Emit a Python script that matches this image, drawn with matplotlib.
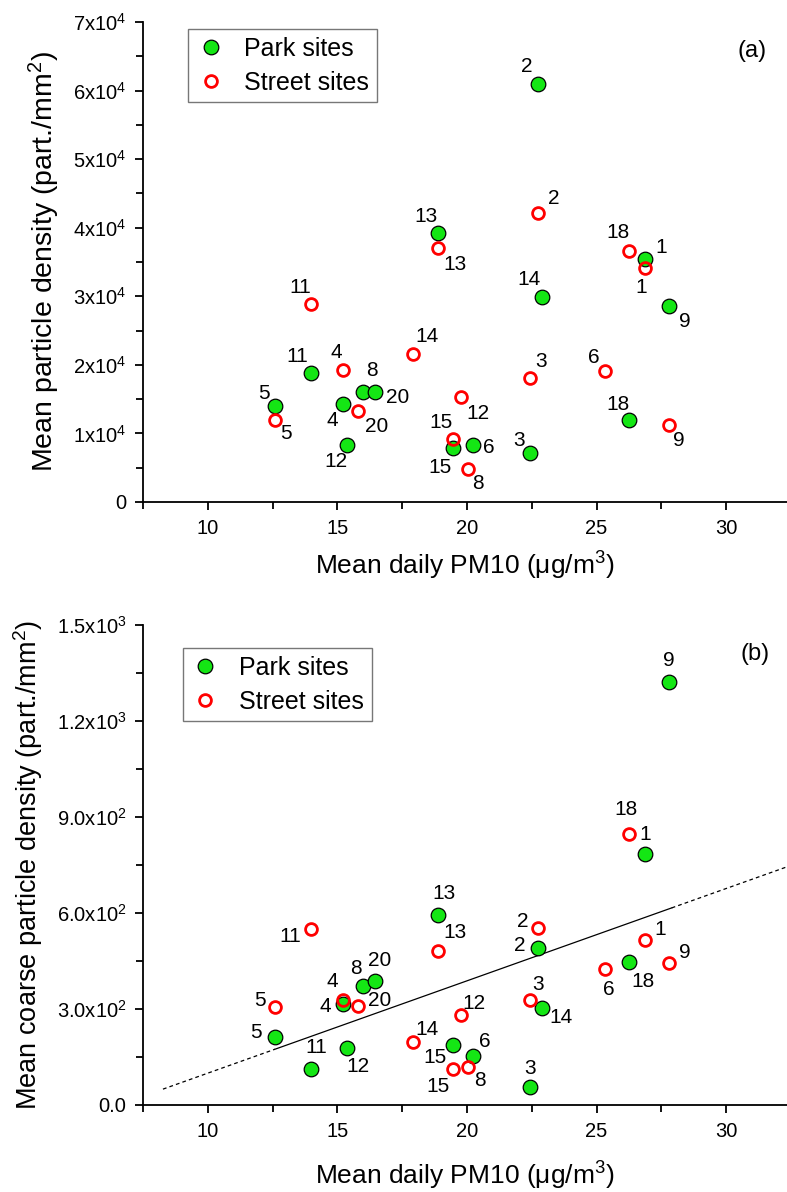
import numpy as np
import matplotlib
matplotlib.use('Agg')
import matplotlib.pyplot as plt

plt.rcParams['font.family'] = ['Liberation Sans', 'DejaVu Sans']
plt.rcParams['mathtext.default'] = 'regular'

# site numbers (same order for every array below)
sites = [1, 2, 3, 4, 5, 6, 8, 9, 11, 12, 13, 14, 15, 18, 20]

# mean daily PM10 (ug/m3)
park_pm10 = [26.88, 22.73, 22.43, 15.2, 12.59, 20.22, 16.0, 27.79, 14.0, 15.38, 18.9, 22.88, 19.47, 26.24, 16.44]
street_pm10 = [26.88, 22.73, 22.43, 15.2, 12.59, 25.34, 20.04, 27.79, 14.0, 19.77, 18.9, 17.9, 19.47, 26.24, 15.8]

# (a) mean particle density (part./mm2)
park_density = [35400, 60900, 7100, 14300, 14000, 8300, 16000, 28600, 18800, 8300, 39200, 29900, 7900, 11900, 16000]
street_density = [34100, 42200, 18100, 19200, 12000, 19100, 4800, 11200, 28900, 15300, 37000, 21600, 9200, 36600, 13200]

# (b) mean coarse particle density (part./mm2)
park_coarse = [784, 491, 55, 316, 212, 152, 371, 1322, 113, 178, 595, 303, 186, 446, 388]
street_coarse = [515, 553, 329, 327, 305, 426, 119, 444, 551, 281, 482, 196, 112, 847, 308]

# linear fit shown in (b)
fit_slope = 28.85
fit_intercept = -189.0

# label offsets in pixels (dx, dy), one per site
off_a_park = [(16, 12), (-11, 18), (-11, 13), (-10, -17), (-11, 12), (16, -2), (9, 22), (16, -16),
              (-14, 17), (-11, -16), (-12, 17), (-13, 17), (-13, -20), (-11, 16), (23, -5)]
off_a_street = [(-4, -19), (16, 14), (11, 16), (-6, 18), (11, -14), (-12, 14), (10, -14), (10, -15),
                (-11, 16), (17, -16), (17, -16), (14, 17), (-12, 16), (-11, 19), (19, -15)]
off_b_park = [(0, 20), (-18, 2), (0, 19), (-17, -3), (-19, 5), (12, 15), (-7, 18), (0, 21),
              (5, 21), (11, -18), (6, 21), (19, -9), (-18, -12), (14, -19), (5, 20)]
off_b_street = [(15, 11), (-15, 7), (8, 15), (-10, 19), (-15, 7), (3, -21), (12, -14), (16, 10),
                (-21, -8), (13, 12), (17, 18), (14, 13), (-15, -17), (-3, 24), (22, 6)]

green = '#14e614'
red = '#ff0000'

fig = plt.figure(figsize=(7.87, 11.92), dpi=100)
ax1 = fig.add_axes([143 / 787, 1 - 502 / 1192, 644 / 787, 480 / 1192])
ax2 = fig.add_axes([143 / 787, 1 - 1105 / 1192, 644 / 787, 480 / 1192])


def draw_panel(ax, yp, ys, offp, offs, xpad):
    ax.plot(park_pm10, yp, 'o', ms=10.5, mfc=green, mec='black', mew=0.9, ls='none',
            label='Park sites', zorder=3)
    ax.plot(street_pm10, ys, 'o', ms=8.5, mfc='none', mec=red, mew=2.0, ls='none',
            label='Street sites', zorder=4)
    for s, x, y, o in zip(sites, park_pm10, yp, offp):
        ax.annotate(str(s), (x, y), xytext=o, textcoords='offset pixels',
                    ha='center', va='center', fontsize=15)
    for s, x, y, o in zip(sites, street_pm10, ys, offs):
        ax.annotate(str(s), (x, y), xytext=o, textcoords='offset pixels',
                    ha='center', va='center', fontsize=15)
    ax.set_xlim(7.5, 32.35)
    ax.set_xticks([10, 15, 20, 25, 30])
    ax.set_xticks(np.arange(7.5, 32.5, 2.5), minor=True)
    ax.spines['top'].set_visible(False)
    ax.spines['right'].set_visible(False)
    for sp in ('left', 'bottom'):
        ax.spines[sp].set_linewidth(1.3)
    ax.tick_params(which='major', length=6, width=1.3, labelsize=14.5, pad=6)
    ax.tick_params(which='minor', length=5, width=1.3)
    ax.set_xlabel(r'Mean daily PM10 ($\mu$g/m$^3$)', fontsize=19, labelpad=xpad)
    leg = ax.legend(fontsize=18, frameon=True, fancybox=False, edgecolor='#555555',
                    handletextpad=0.75, borderpad=0.3, labelspacing=0.4,
                    handlelength=1.2, borderaxespad=0, loc='upper left')
    leg.get_frame().set_linewidth(1.0)
    return leg


leg1 = draw_panel(ax1, park_density, street_density, off_a_park, off_a_street, 9)
leg1.set_bbox_to_anchor((0.07, 0.985), transform=ax1.transAxes)
ax1.set_ylim(0, 70000)
ax1.set_yticks(np.arange(0, 70001, 10000))
ax1.set_yticks(np.arange(0, 70001, 5000), minor=True)
ax1.set_yticklabels(['0'] + ['%dx10$^4$' % k for k in range(1, 8)])
ax1.set_ylabel('Mean particle density (part./mm$^2$)', fontsize=20.5, labelpad=8)
ax1.text(0.945, 0.94, '(a)', transform=ax1.transAxes, fontsize=17, ha='center', va='center')

leg2 = draw_panel(ax2, park_coarse, street_coarse, off_b_park, off_b_street, 14)
leg2.set_bbox_to_anchor((0.062, 0.952), transform=ax2.transAxes)
ax2.set_ylim(0, 1500)
ax2.set_yticks(np.arange(0, 1501, 300))
ax2.set_yticks(np.arange(0, 1501, 150), minor=True)
ax2.set_yticklabels(['0.0', '3.0x10$^2$', '6.0x10$^2$', '9.0x10$^2$', '1.2x10$^3$', '1.5x10$^3$'])
ax2.set_ylabel('Mean coarse particle density (part./mm$^2$)', fontsize=19.5, labelpad=8)
ax2.text(0.95, 0.94, '(b)', transform=ax2.transAxes, fontsize=17, ha='center', va='center')

# fit line: solid over the data range, dashed extrapolation
all_x = park_pm10 + street_pm10
xs_solid = np.array([min(all_x), 27.9])
xs_left = np.array([8.27, min(all_x)])
xs_right = np.array([27.9, 32.5])
ax2.plot(xs_solid, fit_intercept + fit_slope * xs_solid, color='black', lw=0.9, zorder=2)
for xs in (xs_left, xs_right):
    ax2.plot(xs, fit_intercept + fit_slope * xs, color='black', lw=0.9, ls=(0, (3, 2.5)),
             zorder=2, clip_on=False)

fig.savefig('out.png', dpi=100)
